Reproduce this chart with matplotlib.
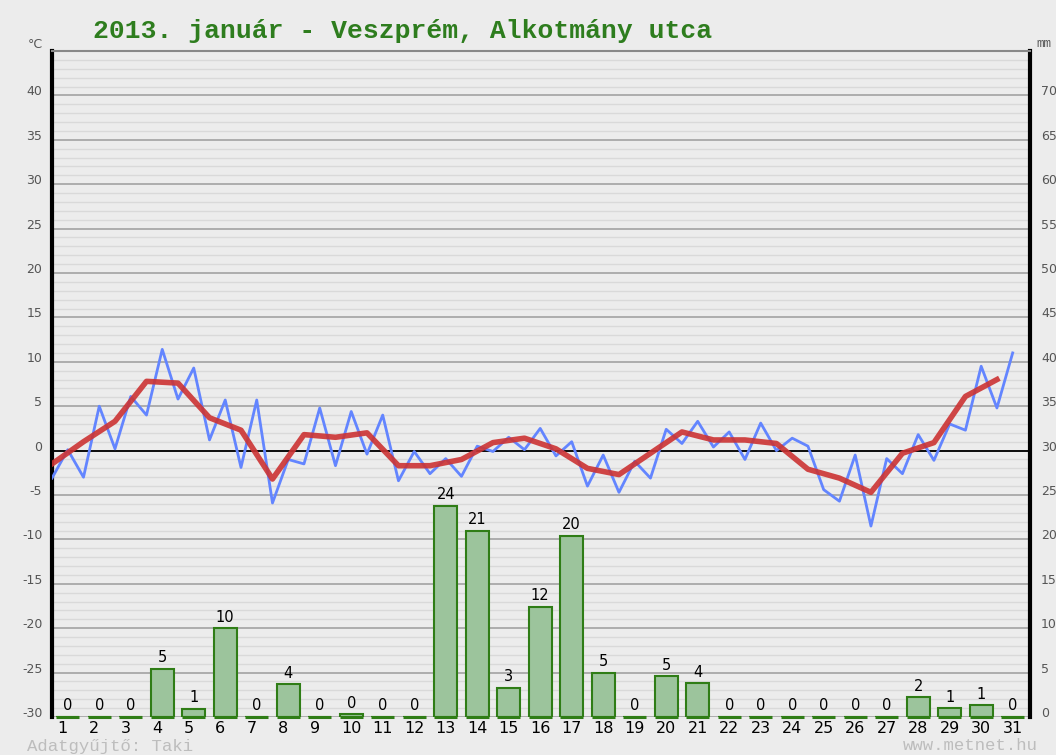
import matplotlib
matplotlib.use("Agg")
import matplotlib.pyplot as plt
import matplotlib.transforms as mtransforms
import numpy as np

# daily data, January 2013
days = np.arange(1, 32)
# two readings per day (half-day steps), degrees C
temp_readings = [-3.1, 0.1, -3.0, 5.0, 0.2, 6.1, 4.0, 11.4, 5.8, 9.3,
                 1.2, 5.7, -1.9, 5.7, -5.9, -1.0, -1.5, 4.8, -1.7, 4.4,
                 -0.4, 4.0, -3.4, -0.1, -2.6, -0.9, -2.9, 0.5, -0.1, 1.5,
                 0.1, 2.5, -0.6, 1.0, -4.0, -0.5, -4.7, -1.2, -3.1, 2.4,
                 0.8, 3.3, 0.4, 2.1, -1.0, 3.1, 0.0, 1.4, 0.5, -4.4,
                 -5.7, -0.5, -8.5, -0.9, -2.6, 1.8, -1.1, 3.0, 2.3, 9.5,
                 4.8, 11.0]
# daily mean temperature
temp_mean = [-1.5, 1.0, 3.3, 7.8, 7.6, 3.7, 2.3, -3.2, 1.8, 1.5,
             2.0, -1.7, -1.7, -1.0, 0.9, 1.4, 0.2, -2.0, -2.7, -0.3,
             2.1, 1.2, 1.2, 0.8, -2.1, -3.1, -4.7, -0.3, 0.9, 6.1, 8.0]
# daily precipitation, mm
precip = [0, 0, 0, 5.4, 0.9, 10.0, 0, 3.7, 0, 0.3,
          0, 0, 23.8, 21.0, 3.3, 12.4, 20.4, 5.0, 0, 4.6,
          3.8, 0, 0, 0, 0, 0, 0, 2.2, 1.0, 1.3, 0]

temp_ticks = np.arange(-30, 45, 5)
mm_ticks = np.arange(0, 75, 5)

BG = '#ececec'
fig = plt.figure(figsize=(10.56, 7.55), dpi=100, facecolor=BG)
ax = fig.add_axes([52/1056, 1 - 717/755, (1030 - 52)/1056, (717 - 51)/755])
ax.set_facecolor(BG)

ax.set_xlim(0.5, 31.55)
ax.set_ylim(-30, 45)

# grid: minor every 1 degree, major every 5
for t in np.arange(-30, 46, 1):
    if t % 5 == 0:
        ax.axhline(t, color='#a8a8a8', lw=1.3, zorder=1)
    else:
        ax.axhline(t, color='#d9d9d9', lw=1.0, zorder=1)
ax.axhline(0, color='black', lw=1.3, zorder=2)

# temperature lines
half_x = np.arange(1, 2 * len(days) + 1) / 2.0
ax.plot(half_x, temp_readings, color='#6385ff', lw=2.0, zorder=4)
ax.plot(days - 0.5, temp_mean, color='#cc3333', lw=4.0, alpha=0.9,
        solid_joinstyle='round', zorder=5)

ax.set_yticks(temp_ticks)
ax.set_yticklabels([str(t) for t in temp_ticks])
ax.tick_params(axis='y', length=0, pad=7, labelsize=9, labelcolor='#555555')
ax.set_xticks(days)
ax.set_xticklabels([str(d) for d in days])
ax.tick_params(axis='x', length=0, pad=3, labelsize=11.5, labelcolor='black')
shift = mtransforms.ScaledTranslation(-10/100, 0, fig.dpi_scale_trans)
for lab in ax.get_xticklabels():
    lab.set_ha('left')
    lab.set_transform(lab.get_transform() + shift)
up = mtransforms.ScaledTranslation(0, 5/100, fig.dpi_scale_trans)
for lab in ax.get_yticklabels():
    lab.set_transform(lab.get_transform() + up)

for s in ['left', 'right']:
    ax.spines[s].set_color('black')
    ax.spines[s].set_linewidth(3)
ax.spines['top'].set_color('#888888')
ax.spines['top'].set_linewidth(1.5)
ax.spines['bottom'].set_visible(False)

# precipitation bars on mm axis
ax2 = ax.twinx()
ax2.set_ylim(0, 75)
ax2.set_xlim(0.5, 31.55)
bars = ax2.bar(days, precip, width=0.73, color='#9cc49c',
               edgecolor='#2f7d16', linewidth=1.5, zorder=3)
# base line of every bar (visible also for 0 mm days)
ax2.hlines([0] * len(days), [b.get_x() for b in bars],
           [b.get_x() + b.get_width() for b in bars],
           color='#2f7d16', lw=2.2, zorder=4, clip_on=False)
for b, v in zip(bars, precip):
    ax2.text(b.get_x() + b.get_width() / 2, v + 0.4, f'{v:.0f}',
             ha='center', va='bottom', fontsize=10.5, color='black')
ax2.set_yticks(mm_ticks)
ax2.set_yticklabels([str(m) for m in mm_ticks])
ax2.tick_params(axis='y', length=0, pad=8, labelsize=9, labelcolor='#555555')
for lab in ax2.get_yticklabels():
    lab.set_transform(lab.get_transform() + up)
for s in ax2.spines.values():
    s.set_visible(False)

# texts
fig.text(93/1056, 1 - 31/755, '2013. január - Veszprém, Alkotmány utca',
         family='Liberation Mono', fontweight='bold', fontsize=19,
         color='#2e7d1e', ha='left', va='center')
fig.text(35/1056, 1 - 44/755, '°C', fontsize=9, color='#555555',
         ha='center', va='center')
fig.text(1036/1056, 1 - 44/755, 'mm', fontsize=9, color='#555555',
         family='Liberation Mono', ha='left', va='center')
fig.text(27/1056, 1 - 746/755, 'Adatgyűjtő: Taki', family='Liberation Mono',
         fontsize=12.5, color='#bdbdbd', ha='left', va='center')
fig.text(903/1056, 1 - 746/755, 'www.metnet.hu', family='Liberation Mono',
         fontsize=12.5, color='#bdbdbd', ha='left', va='center')

plt.savefig('out.png', dpi=100, facecolor=BG)
plt.close()
